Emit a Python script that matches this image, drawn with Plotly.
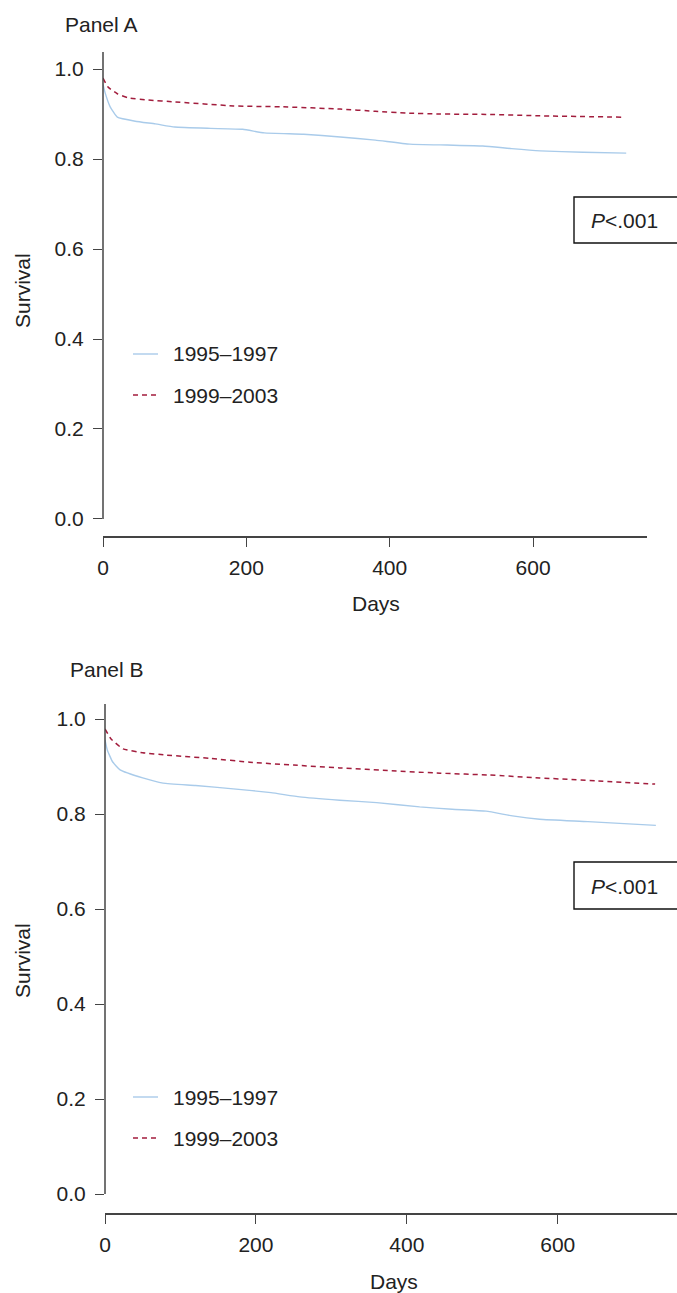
import plotly.graph_objects as go

# ---------------- data ----------------
series_names = ["1995–1997", "1999–2003"]

a_days_9597 = [0, 3, 10, 20, 45, 73, 100, 150, 195, 225, 280, 331, 380, 428, 480, 530, 570, 610, 670, 730]
a_surv_9597 = [0.966, 0.947, 0.916, 0.893, 0.884, 0.878, 0.871, 0.868, 0.866, 0.858, 0.855, 0.849,
               0.842, 0.833, 0.831, 0.829, 0.823, 0.818, 0.815, 0.813]
a_days_9903 = [0, 7, 20, 35, 63, 100, 182, 250, 331, 380, 424, 470, 540, 610, 724]
a_surv_9903 = [0.980, 0.960, 0.945, 0.936, 0.931, 0.927, 0.918, 0.916, 0.911, 0.906, 0.902, 0.900,
               0.899, 0.896, 0.893]

b_days_9597 = [0, 3, 10, 20, 50, 77, 120, 170, 220, 258, 311, 360, 417, 460, 505, 540, 576, 640, 730]
b_surv_9597 = [0.956, 0.935, 0.910, 0.893, 0.876, 0.865, 0.860, 0.853, 0.845, 0.836, 0.829, 0.824,
               0.815, 0.810, 0.806, 0.796, 0.789, 0.784, 0.776]
b_days_9903 = [0, 8, 24, 50, 82, 140, 192, 250, 311, 380, 444, 510, 576, 650, 729]
b_surv_9903 = [0.979, 0.958, 0.937, 0.929, 0.924, 0.917, 0.909, 0.903, 0.897, 0.891, 0.886, 0.882,
               0.876, 0.870, 0.863]

x_ticks = [0, 200, 400, 600]
y_ticks = [0.0, 0.2, 0.4, 0.6, 0.8, 1.0]
y_tick_labels = ["0.0", "0.2", "0.4", "0.6", "0.8", "1.0"]
panel_titles = ["Panel A", "Panel B"]
p_text = "<i>P</i>&lt;.001"

# ---------------- style ----------------
W, H = 677, 1293
FONT = "Liberation Sans, Arial, Helvetica, sans-serif"
FS = 21
TXT = "#222222"
AX = "#444444"
BLUE = "#a9cbea"
RED = "#a21d3d"


def px_x(p):
    return p / W


def px_y(p):
    return 1 - p / H


fig = go.Figure()

panels = [
    dict(xa="x", ya="y", xd=(103, 647), yd=(52, 536), xr=[0, 759], yr=[-0.0378, 1.0378],
         data=[(a_days_9597, a_surv_9597), (a_days_9903, a_surv_9903)],
         title=(63, 25), ylab=(22, 290), xlab=(376, 603), leg=(354, 395), pbox=(197, 243)),
    dict(xa="x2", ya="y2", xd=(105, 677), yd=(704, 1213), xr=[0, 758], yr=[-0.04, 1.0316],
         data=[(b_days_9597, b_surv_9597), (b_days_9903, b_surv_9903)],
         title=(68, 669), ylab=(22, 960), xlab=(394, 1281), leg=(1097, 1138), pbox=(862, 909)),
]

shapes = []
annotations = []
for i, p in enumerate(panels):
    (d1, s1), (d2, s2) = p["data"]
    fig.add_trace(go.Scatter(x=d1, y=s1, mode="lines", name=series_names[0], xaxis=p["xa"], yaxis=p["ya"],
                             line=dict(color=BLUE, width=1.4, shape="spline", smoothing=0.4), showlegend=False))
    fig.add_trace(go.Scatter(x=d2, y=s2, mode="lines", name=series_names[1], xaxis=p["xa"], yaxis=p["ya"],
                             line=dict(color=RED, width=1.5, dash="5px,4px", shape="spline", smoothing=0.4),
                             showlegend=False))
    # y axis line from 0 to top
    shapes.append(dict(type="line", xref=f"{p['xa']} domain", yref=p["ya"], x0=0, x1=0,
                       y0=0, y1=p["yr"][1], line=dict(color=AX, width=1.5)))
    # titles
    annotations.append(dict(text=panel_titles[i], x=px_x(p["title"][0]), y=px_y(p["title"][1]),
                            xref="paper", yref="paper", xanchor="left", yanchor="middle", showarrow=False,
                            font=dict(size=FS, color=TXT, family=FONT)))
    annotations.append(dict(text="Survival", x=px_x(p["ylab"][0]), y=px_y(p["ylab"][1]), textangle=-90,
                            xref="paper", yref="paper", xanchor="center", yanchor="middle", showarrow=False,
                            font=dict(size=FS, color=TXT, family=FONT)))
    annotations.append(dict(text="Days", x=px_x(p["xlab"][0]), y=px_y(p["xlab"][1]),
                            xref="paper", yref="paper", xanchor="center", yanchor="middle", showarrow=False,
                            font=dict(size=FS, color=TXT, family=FONT)))
    # legend
    for j, (col, dash, w) in enumerate([(BLUE, "solid", 1.4), (RED, "5px,4px", 1.5)]):
        yy = px_y(p["leg"][j])
        shapes.append(dict(type="line", xref="paper", yref="paper", x0=px_x(133), x1=px_x(158), y0=yy, y1=yy,
                           line=dict(color=col, width=w, dash=dash)))
        annotations.append(dict(text=series_names[j], x=px_x(171), y=yy, xref="paper", yref="paper",
                                xanchor="left", yanchor="middle", showarrow=False,
                                font=dict(size=FS, color=TXT, family=FONT)))
    # P box
    t, b = p["pbox"]
    shapes.append(dict(type="rect", xref="paper", yref="paper", x0=px_x(574), x1=px_x(700),
                       y0=px_y(b), y1=px_y(t), line=dict(color="#111111", width=1.4)))
    annotations.append(dict(text=p_text, x=px_x(624), y=px_y((t + b) / 2 + 1), xref="paper", yref="paper",
                            xanchor="center", yanchor="middle", showarrow=False,
                            font=dict(size=FS, color=TXT, family=FONT)))

    xkey = "xaxis" if i == 0 else "xaxis2"
    ykey = "yaxis" if i == 0 else "yaxis2"
    fig.update_layout(**{
        xkey: dict(domain=[px_x(p["xd"][0]), px_x(p["xd"][1])], range=p["xr"], anchor=p["ya"],
                   tickvals=x_ticks, ticks="outside", ticklen=9, tickwidth=1.2, tickcolor=AX,
                   showline=True, linecolor=AX, linewidth=1.5, showgrid=False, zeroline=False,
                   automargin=False, ticklabelstandoff=3,
                   tickfont=dict(size=FS, color=TXT, family=FONT), fixedrange=True),
        ykey: dict(domain=[px_y(p["yd"][1]), px_y(p["yd"][0])], range=p["yr"], anchor=p["xa"],
                   tickvals=y_ticks, ticktext=y_tick_labels, ticks="outside", ticklen=9, tickwidth=1.2,
                   tickcolor=AX, showline=False, showgrid=False, zeroline=False, automargin=False,
                   ticklabelstandoff=5,
                   tickfont=dict(size=FS, color=TXT, family=FONT), fixedrange=True),
    })

fig.update_layout(width=W, height=H, margin=dict(l=0, r=0, t=0, b=0, autoexpand=False),
                  paper_bgcolor="white", plot_bgcolor="white", showlegend=False,
                  shapes=shapes, annotations=annotations, font=dict(family=FONT, color=TXT))

fig.write_html("out.html", config={"displayModeBar": False},
               post_script="document.body.style.margin='0';document.body.style.overflow='hidden';")
